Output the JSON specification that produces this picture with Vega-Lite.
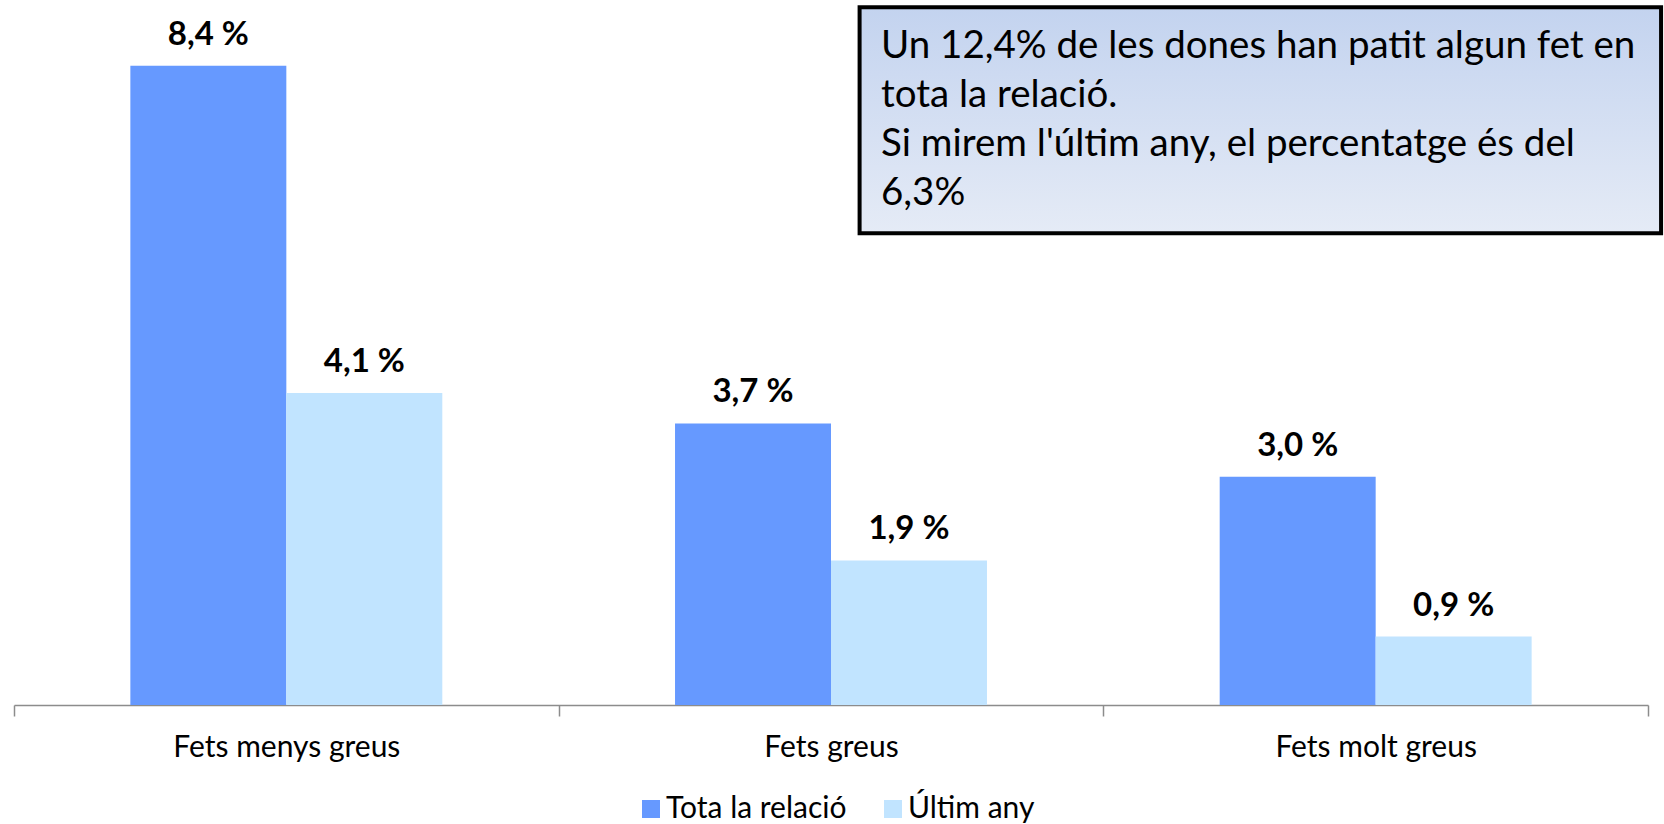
{
  "$schema": "https://vega.github.io/schema/vega-lite/v6.json",
  "width": 1634,
  "height": 700,
  "autosize": "none",
  "padding": {"left": 14, "top": 5, "right": 16, "bottom": 119},
  "background": "white",
  "config": {"view": {"stroke": null}, "font": "Lato"},
  "layer": [
    {
      "data": {"values": [
        {"cat": "Fets menys greus", "series": "Tota la relació", "value": 8.4, "label": "8,4 %"},
        {"cat": "Fets menys greus", "series": "Últim any", "value": 4.1, "label": "4,1 %"},
        {"cat": "Fets greus", "series": "Tota la relació", "value": 3.7, "label": "3,7 %"},
        {"cat": "Fets greus", "series": "Últim any", "value": 1.9, "label": "1,9 %"},
        {"cat": "Fets molt greus", "series": "Tota la relació", "value": 3.0, "label": "3,0 %"},
        {"cat": "Fets molt greus", "series": "Últim any", "value": 0.9, "label": "0,9 %"}
      ]},
      "encoding": {
        "x": {
          "field": "cat", "type": "nominal",
          "sort": ["Fets menys greus", "Fets greus", "Fets molt greus"],
          "scale": {"paddingInner": 0, "paddingOuter": 0},
          "axis": {
            "title": null, "labelAngle": 0, "labelFontSize": 30, "labelColor": "black", "labelLimit": 0,
            "labelPadding": 16, "domainColor": "#8c8c8c", "domainWidth": 1.5,
            "tickColor": "#8c8c8c", "tickWidth": 1.5, "tickSize": 11, "tickBand": "extent"
          }
        },
        "xOffset": {"field": "series", "type": "nominal", "sort": ["Tota la relació", "Últim any"],
          "scale": {"paddingInner": 0, "paddingOuter": 0.746}},
        "y": {"field": "value", "type": "quantitative", "scale": {"domain": [0, 9.2]}, "axis": null}
      },
      "layer": [
        {
          "mark": {"type": "bar"},
          "encoding": {
            "color": {
              "field": "series", "type": "nominal",
              "sort": ["Tota la relació", "Últim any"],
              "scale": {"domain": ["Tota la relació", "Últim any"], "range": ["#6699ff", "#c1e4ff"]},
              "legend": {
                "title": null, "orient": "none", "legendX": 622, "legendY": 789, "direction": "horizontal",
                "symbolType": "square", "symbolSize": 324, "symbolStrokeWidth": 0,
                "labelFontSize": 30, "labelColor": "black", "labelOffset": 0, "labelLimit": 0,
                "columnPadding": 31
              }
            }
          }
        },
        {
          "mark": {"type": "text", "fontWeight": "bold", "fontSize": 33, "baseline": "alphabetic", "dy": -21, "color": "black"},
          "encoding": {"text": {"field": "label"}}
        }
      ]
    },
    {
      "data": {"values": [{"x": 0.5175, "x2": 1.008, "y": 9.17, "y2": 6.2}]},
      "mark": {
        "type": "rect", "clip": false, "stroke": "black", "strokeWidth": 4,
        "fill": {"gradient": "linear", "x1": 0, "y1": 0, "x2": 0, "y2": 1,
          "stops": [{"offset": 0, "color": "#c3d3ef"}, {"offset": 1, "color": "#e5ebf6"}]}
      },
      "encoding": {
        "x": {"field": "x", "type": "quantitative", "scale": {"domain": [0, 1]}, "axis": null},
        "x2": {"field": "x2"},
        "y": {"field": "y", "type": "quantitative", "scale": {"domain": [0, 9.2]}, "axis": null},
        "y2": {"field": "y2"}
      }
    },
    {
      "data": {"values": [{"x": 0.5306, "y": 8.50, "t": "Un 12,4% de les dones han patit algun fet en\ntota la relació.\nSi mirem l'últim any, el percentatge és del\n6,3%"}]},
      "mark": {"type": "text", "align": "left", "baseline": "alphabetic", "fontSize": 38.5, "lineHeight": 49, "lineBreak": "\n", "color": "black"},
      "encoding": {
        "x": {"field": "x", "type": "quantitative", "scale": {"domain": [0, 1]}, "axis": null},
        "y": {"field": "y", "type": "quantitative", "scale": {"domain": [0, 9.2]}, "axis": null},
        "text": {"field": "t"}
      }
    }
  ],
  "resolve": {"scale": {"x": "independent"}}
}
